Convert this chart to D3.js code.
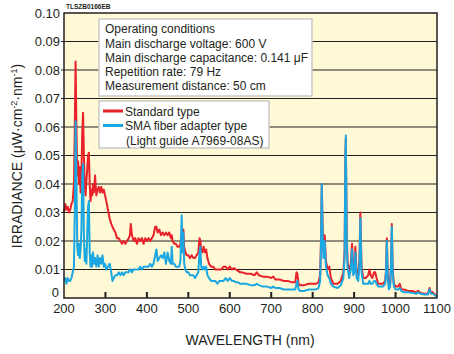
<!DOCTYPE html>
<html>
<head>
<meta charset="utf-8">
<script src="https://cdn.jsdelivr.net/npm/d3@7"></script>
<style>
  body { margin: 0; background: #fff; }
  svg { display: block; font-family: "Liberation Sans", Arial, sans-serif; }
</style>
</head>
<body>
<div id="chart"></div>
<script>
// Data (wavelength in nm, irradiance in uW/cm2/nm)
const wavelength = [200,203,206,209,212,215,218,221,224,226,228,230,232,234,236,238,240,242,244,246,248,250,252,254,256,258,260,262,264,266,268,270,272,275,278,281,284,287,290,293,296,299,302,306,310,314,317,320,324,328,332,336,340,344,348,352,356,359,361,364,368,372,376,380,384,388,392,396,400,404,408,412,416,420,423,426,430,434,438,442,446,450,454,458,460,462,466,470,474,478,481,483,484,486,488,490,493,496,500,504,508,512,516,520,524,527,529,531,534,537,540,543,546,550,555,560,565,570,575,580,585,590,595,600,605,610,615,620,625,630,640,650,660,665,670,680,690,700,705,710,720,730,740,750,758,761,763,766,770,780,790,800,808,814,818,820,822,824,826,829,832,836,840,844,850,860,868,874,877,879,880,882,884,888,892,895,898,901,903,906,910,913,915,918,922,928,934,937,940,944,948,951,954,958,964,970,975,977,979,981,984,987,989,991,993,996,1000,1006,1010,1014,1020,1030,1040,1050,1054,1060,1070,1078,1082,1085,1090,1095,1100];

const standardType = [0.030,0.033,0.031,0.032,0.030,0.031,0.033,0.034,0.040,0.060,0.083,0.060,0.043,0.048,0.040,0.046,0.037,0.043,0.058,0.065,0.050,0.040,0.036,0.041,0.045,0.050,0.051,0.040,0.034,0.038,0.036,0.040,0.037,0.043,0.036,0.038,0.039,0.037,0.039,0.037,0.038,0.036,0.034,0.031,0.028,0.026,0.025,0.024,0.023,0.021,0.021,0.020,0.019,0.020,0.019,0.020,0.021,0.022,0.026,0.022,0.020,0.021,0.019,0.021,0.020,0.021,0.019,0.021,0.020,0.021,0.020,0.021,0.022,0.025,0.025,0.023,0.024,0.022,0.023,0.022,0.023,0.022,0.023,0.021,0.022,0.020,0.019,0.019,0.018,0.018,0.019,0.022,0.023,0.020,0.024,0.018,0.016,0.015,0.015,0.014,0.015,0.014,0.014,0.015,0.016,0.021,0.020,0.017,0.016,0.018,0.016,0.017,0.014,0.012,0.011,0.011,0.010,0.010,0.010,0.010,0.011,0.011,0.010,0.011,0.010,0.0105,0.010,0.0095,0.009,0.009,0.0085,0.0085,0.008,0.009,0.008,0.0075,0.0075,0.007,0.0075,0.0065,0.0065,0.006,0.006,0.0055,0.0055,0.009,0.0085,0.005,0.0045,0.0045,0.005,0.005,0.005,0.0055,0.008,0.020,0.040,0.025,0.016,0.022,0.013,0.010,0.011,0.007,0.005,0.005,0.006,0.009,0.016,0.050,0.056,0.025,0.013,0.009,0.012,0.019,0.010,0.011,0.018,0.009,0.008,0.014,0.030,0.011,0.007,0.007,0.008,0.010,0.008,0.007,0.009,0.009,0.007,0.005,0.005,0.005,0.006,0.010,0.021,0.009,0.004,0.005,0.012,0.026,0.010,0.005,0.004,0.004,0.005,0.003,0.003,0.0025,0.0025,0.002,0.0025,0.0018,0.0015,0.0015,0.0035,0.002,0.002,0.0012,0.0005];

const smaType = [0.006,0.007,0.005,0.007,0.006,0.006,0.007,0.009,0.011,0.030,0.062,0.042,0.018,0.015,0.019,0.014,0.017,0.024,0.043,0.047,0.022,0.013,0.017,0.012,0.022,0.032,0.034,0.016,0.011,0.015,0.011,0.016,0.012,0.014,0.011,0.015,0.011,0.014,0.012,0.015,0.011,0.012,0.010,0.011,0.012,0.009,0.006,0.007,0.008,0.008,0.009,0.008,0.009,0.008,0.009,0.009,0.009,0.010,0.010,0.009,0.010,0.010,0.010,0.010,0.011,0.010,0.011,0.011,0.011,0.011,0.012,0.011,0.012,0.015,0.017,0.013,0.014,0.015,0.014,0.016,0.012,0.016,0.013,0.012,0.018,0.012,0.012,0.011,0.011,0.011,0.013,0.024,0.029,0.016,0.023,0.012,0.010,0.009,0.009,0.008,0.008,0.008,0.007,0.008,0.009,0.016,0.018,0.011,0.010,0.011,0.010,0.011,0.008,0.007,0.006,0.006,0.006,0.005,0.006,0.006,0.006,0.007,0.006,0.007,0.006,0.006,0.0055,0.0055,0.005,0.005,0.005,0.0045,0.0045,0.005,0.0045,0.004,0.004,0.0035,0.004,0.0035,0.0035,0.003,0.003,0.003,0.003,0.005,0.006,0.003,0.0025,0.0025,0.003,0.003,0.003,0.0035,0.006,0.018,0.040,0.022,0.014,0.020,0.011,0.008,0.007,0.005,0.004,0.0035,0.0045,0.007,0.014,0.050,0.057,0.023,0.011,0.007,0.010,0.017,0.008,0.009,0.016,0.007,0.006,0.012,0.028,0.009,0.005,0.005,0.005,0.006,0.005,0.005,0.006,0.006,0.005,0.004,0.004,0.004,0.005,0.009,0.020,0.007,0.003,0.004,0.011,0.025,0.009,0.004,0.003,0.003,0.0035,0.0025,0.002,0.002,0.0018,0.0015,0.002,0.0015,0.0012,0.0012,0.003,0.0015,0.0015,0.001,0.0003];

const xTicks = [200,300,400,500,600,700,800,900,1000,1100];
const yTicks = [0,0.01,0.02,0.03,0.04,0.05,0.06,0.07,0.08,0.09,0.10];
const conditions = ["Operating conditions", "Main discharge voltage: 600 V", "Main discharge capacitance: 0.141 \u03bcF", "Repetition rate: 79 Hz", "Measurement distance: 50 cm"];
const legendLabels = ["Standard type", "SMA fiber adapter type", "(Light guide A7969-08AS)"];

const colors = { standard: "#e8212b", sma: "#1aa7e2" };
const W = 454, H = 354;
const plot = { left: 64, right: 437, top: 13, bottom: 298 };

const svg = d3.select("#chart").append("svg")
  .attr("width", W)
  .attr("height", H);

const x = d3.scaleLinear().domain([200, 1100]).range([plot.left, plot.right]);
const y = d3.scaleLinear().domain([0, 0.1]).range([plot.bottom, plot.top]);

// plot background
svg.append("rect")
  .attr("x", plot.left).attr("y", plot.top)
  .attr("width", plot.right - plot.left).attr("height", plot.bottom - plot.top)
  .attr("fill", "#fffad5");

// horizontal gridlines
svg.append("g")
  .selectAll("line")
  .data(yTicks.filter(d => d > 0 && d < 0.1))
  .enter().append("line")
  .attr("x1", plot.left - 3).attr("x2", plot.right)
  .attr("y1", d => y(d)).attr("y2", d => y(d))
  .attr("stroke", "#231f20")
  .attr("stroke-width", 1.2);

// y tick labels
svg.append("g")
  .selectAll("text")
  .data(yTicks)
  .enter().append("text")
  .attr("x", d => d === 0 ? 59 : 60)
  .attr("y", d => d === 0 ? y(d) - 6 : y(d))
  .attr("dy", "0.35em")
  .attr("text-anchor", "end")
  .attr("fill", "#231f20")
  .style("font-size", "13px")
  .text(d => d === 0 ? "0" : d3.format(".2f")(d));

// bottom ticks (inside) and labels
svg.append("g")
  .selectAll("line")
  .data(xTicks.slice(1, -1))
  .enter().append("line")
  .attr("x1", d => x(d)).attr("x2", d => x(d))
  .attr("y1", plot.bottom).attr("y2", plot.bottom - 6)
  .attr("stroke", "#231f20")
  .attr("stroke-width", 2);

svg.append("g")
  .selectAll("text")
  .data(xTicks)
  .enter().append("text")
  .attr("x", d => x(d))
  .attr("y", 313)
  .attr("text-anchor", "middle")
  .attr("fill", "#231f20")
  .style("font-size", "13px")
  .text(d => d);

// spectra
const line = d3.line()
  .x(d => x(d[0]))
  .y(d => y(d[1]));

svg.append("path")
  .datum(wavelength.map((w, i) => [w, standardType[i]]))
  .attr("d", line)
  .attr("fill", "none")
  .attr("stroke", colors.standard)
  .attr("stroke-width", 2)
  .attr("stroke-linejoin", "round");

svg.append("path")
  .datum(wavelength.map((w, i) => [w, smaType[i]]))
  .attr("d", line)
  .attr("fill", "none")
  .attr("stroke", colors.sma)
  .attr("stroke-width", 2)
  .attr("stroke-linejoin", "round");

// plot frame
svg.append("rect")
  .attr("x", plot.left).attr("y", plot.top)
  .attr("width", plot.right - plot.left).attr("height", plot.bottom - plot.top)
  .attr("fill", "none")
  .attr("stroke", "#231f20")
  .attr("stroke-width", 1.5);

// operating conditions box
const info = svg.append("g");
info.append("rect")
  .attr("x", 99).attr("y", 19).attr("width", 213).attr("height", 77)
  .attr("fill", "#fff").attr("stroke", "#c9c9c9").attr("stroke-width", 1.5);
info.selectAll("text")
  .data(conditions)
  .enter().append("text")
  .attr("x", 105)
  .attr("y", (d, i) => 29 + i * 14.3)
  .attr("dy", "0.35em")
  .attr("fill", "#231f20")
  .style("font-size", "12px")
  .text(d => d);

// legend box
const legend = svg.append("g");
legend.append("rect")
  .attr("x", 99).attr("y", 101).attr("width", 170).attr("height", 47)
  .attr("fill", "#fff").attr("stroke", "#c9c9c9").attr("stroke-width", 1.5);
legend.append("line")
  .attr("x1", 103).attr("x2", 123).attr("y1", 111).attr("y2", 111)
  .attr("stroke", colors.standard).attr("stroke-width", 3);
legend.append("line")
  .attr("x1", 103).attr("x2", 123).attr("y1", 125.5).attr("y2", 125.5)
  .attr("stroke", colors.sma).attr("stroke-width", 3);
legend.selectAll("text")
  .data(legendLabels)
  .enter().append("text")
  .attr("x", (d, i) => i === 2 ? 126 : 125)
  .attr("y", (d, i) => 111.5 + i * 14.5)
  .attr("dy", "0.35em")
  .attr("fill", "#231f20")
  .style("font-size", "12px")
  .text(d => d);

// figure code
svg.append("text")
  .attr("x", 66).attr("y", 9)
  .attr("fill", "#231f20")
  .style("font-size", "6.5px")
  .style("font-weight", "bold")
  .text("TLSZB0166EB");

// axis titles
svg.append("text")
  .attr("x", 250).attr("y", 345)
  .attr("text-anchor", "middle")
  .attr("fill", "#231f20")
  .style("font-size", "14px")
  .text("WAVELENGTH (nm)");

const yTitle = svg.append("text")
  .attr("transform", "translate(22,156) rotate(-90)")
  .attr("text-anchor", "middle")
  .attr("fill", "#231f20")
  .style("font-size", "14px");
yTitle.append("tspan").text("IRRADIANCE (\u03bcW\u00b7cm");
yTitle.append("tspan").attr("dy", -5).style("font-size", "9px").text("-2");
yTitle.append("tspan").attr("dy", 5).text("\u00b7nm");
yTitle.append("tspan").attr("dy", -5).style("font-size", "9px").text("-1");
yTitle.append("tspan").attr("dy", 5).text(")");
</script>
</body>
</html>
